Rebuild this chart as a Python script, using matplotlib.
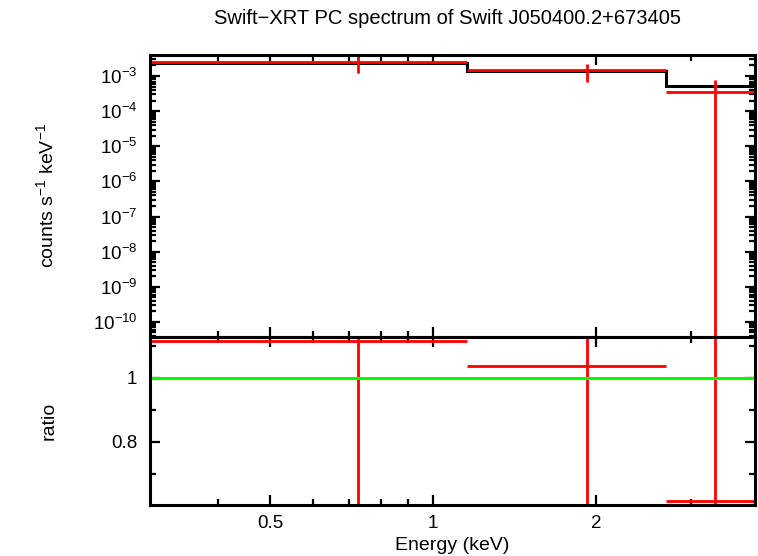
import numpy as np
import matplotlib
matplotlib.use('Agg')
import matplotlib.pyplot as plt
from matplotlib.ticker import FixedLocator, NullFormatter, LogLocator

plt.rcParams['font.family'] = ['Liberation Sans', 'DejaVu Sans']
plt.rcParams['mathtext.fontset'] = 'custom'
plt.rcParams['mathtext.rm'] = 'Liberation Sans'

# spectral bins (keV)
e_lo  = [0.30, 1.157, 2.69]
e_hi  = [1.157, 2.69, 3.93]
e_cen = [0.727, 1.92, 3.32]

# data: counts s^-1 keV^-1
rate     = [2.59e-3, 1.45e-3, 3.5e-4]
rate_err = [1.35e-3, 7.5e-4, 4.2e-4]
# folded model
model = [2.35e-3, 1.39e-3, 5.2e-4]

# ratio panel
ratio     = [1.116, 1.0375, 0.615]
ratio_err = [0.57, 0.54, 0.81]

RED = '#ff0000'
GREEN = '#00ff00'

fig = plt.figure(figsize=(7.58, 5.56), dpi=100)
ax1 = fig.add_axes([150/758, 1-337/556, 605/758, 282/556])
ax2 = fig.add_axes([150/758, 1-505/556, 605/758, 168/556], sharex=ax1)

lw = 2.0
# top panel
for lo, hi, c, r, e in zip(e_lo, e_hi, e_cen, rate, rate_err):
    ax1.plot([lo, hi], [r, r], color=RED, lw=lw, solid_capstyle='butt')
    ax1.plot([c, c], [max(r - e, 1e-14), r + e], color=RED, lw=lw, solid_capstyle='butt')
ax1.stairs(model, [e_lo[0]] + e_hi, color='black', lw=2.2, baseline=None)
ax1.set_yscale('log')
ax1.set_ylim(10**-10.43, 10**-2.40)
ax1.yaxis.set_major_locator(LogLocator(base=10, numticks=20))
ax1.yaxis.set_minor_locator(LogLocator(base=10, subs=np.arange(2, 10), numticks=20))
ax1.set_ylabel('counts s$^{-1}$ keV$^{-1}$', fontsize=14)
ax1.yaxis.set_label_coords(-0.152, 0.5)

# ratio panel
for lo, hi, c, r, e in zip(e_lo, e_hi, e_cen, ratio, ratio_err):
    ax2.plot([lo, hi], [r, r], color=RED, lw=lw, solid_capstyle='butt')
    ax2.plot([c, c], [r - e, r + e], color=RED, lw=lw, solid_capstyle='butt')
ax2.axhline(1.0, color=GREEN, lw=2.2)
ax2.set_ylim(0.603, 1.128)
ax2.yaxis.set_major_locator(FixedLocator([0.8, 1.0]))
ax2.yaxis.set_minor_locator(FixedLocator([0.7, 0.9, 1.1]))
ax2.set_yticklabels(['0.8', '1'])
ax2.set_ylabel('ratio', fontsize=14)
ax2.yaxis.set_label_coords(-0.152, 0.5)

ax2.set_xscale('log')
ax2.set_xlim(0.30, 3.93)
ax2.xaxis.set_major_locator(FixedLocator([0.5, 1, 2]))
ax2.xaxis.set_minor_locator(FixedLocator([0.4, 0.6, 0.7, 0.8, 0.9, 3]))
ax2.xaxis.set_minor_formatter(NullFormatter())
ax2.set_xticklabels(['0.5', '1', '2'])
ax2.set_xlabel('Energy (keV)', fontsize=14, labelpad=4)
plt.setp(ax1.get_xticklabels(), visible=False)

for ax in (ax1, ax2):
    for s in ax.spines.values():
        s.set_linewidth(2.2)
    ax.tick_params(which='both', direction='in', top=True, right=True,
                   labelsize=13.5, width=1.6)
    ax.tick_params(which='major', length=7)
    ax.tick_params(which='minor', length=4)
    ax.tick_params(axis='y', which='both', pad=9)
    ax.tick_params(axis='x', which='both', pad=7)

fig.text(447/758, 1-18/556, 'Swift\u2212XRT PC spectrum of Swift J050400.2+673405',
         ha='center', va='center', fontsize=14.5)

fig.savefig('out.png', dpi=100)
